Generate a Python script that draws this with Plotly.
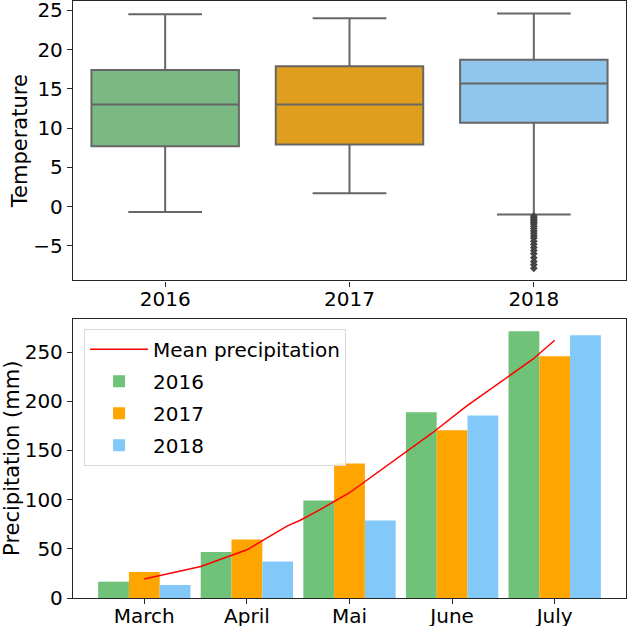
import plotly.graph_objects as go
from plotly.subplots import make_subplots

# temperature box stats
years = ['2016', '2017', '2018']
t_upper = [24.5, 24.0, 24.6]
t_q3 = [17.4, 17.9, 18.7]
t_median = [13.0, 13.0, 15.7]
t_q1 = [7.7, 7.9, 10.7]
t_lower = [-0.7, 1.7, -1.0]
outliers_2018 = [-1.2, -1.4, -1.6, -1.8, -2.0, -2.2, -2.5, -2.8, -3.1, -3.4,
                 -3.7, -4.0, -4.4, -4.8, -5.2, -5.6, -6.0, -6.5, -7.0, -7.4, -7.85]
box_colors = ['#7ab982', '#e09e1f', '#91c6ec']

# precipitation
months = ['March', 'April', 'Mai', 'June', 'July']
precip = {
    '2016': [16.6, 46.8, 99.1, 188.7, 271.2],
    '2017': [26.5, 59.4, 136.8, 170.4, 245.7],
    '2018': [13.2, 37.0, 78.7, 185.6, 267.1],
}
bar_colors = {'2016': '#70c279', '2017': '#ffa500', '2018': '#82c9fa'}

# mean precipitation curve, read at a handful of positions
mean_x = [0, 0.55, 1.0, 1.39, 1.52, 1.7, 2.0, 2.49, 2.81, 3.14, 3.47, 3.79, 4.0]
mean_y = [19.3, 32, 49, 73, 79, 89, 107, 144, 168, 195, 219, 243, 262]

fig = make_subplots(rows=2, cols=1, vertical_spacing=0.064)

for i, yr in enumerate(years):
    fig.add_trace(go.Box(
        x=[yr], q1=[t_q1[i]], median=[t_median[i]], q3=[t_q3[i]],
        lowerfence=[t_lower[i]], upperfence=[t_upper[i]],
        fillcolor=box_colors[i], line=dict(color='#666666', width=2),
        width=0.8, whiskerwidth=0.5, boxpoints=False, showlegend=False,
    ), row=1, col=1)

fig.add_trace(go.Scatter(
    x=['2018'] * len(outliers_2018), y=outliers_2018, mode='markers',
    marker=dict(symbol='diamond', size=6, color='#444444'), showlegend=False,
), row=1, col=1)

fig.add_trace(go.Scatter(
    x=mean_x, y=mean_y, mode='lines', name='Mean precipitation',
    line=dict(color='red', width=1.5), legendgroup='mean',
), row=2, col=1)

for yr in years:
    fig.add_trace(go.Bar(
        x=list(range(len(months))), y=precip[yr], name=yr, legendgroup=yr,
        marker=dict(color=bar_colors[yr], line=dict(width=0)),
    ), row=2, col=1)

axis_style = dict(showline=True, mirror=True, linecolor='#262626', linewidth=1.3,
                  ticks='outside', ticklen=5, tickcolor='#262626', automargin=False,
                  showgrid=False, zeroline=False, tickfont=dict(size=20),
                  ticklabeloverflow='allow')

fig.update_xaxes(**axis_style, ticklabelstandoff=-5)
fig.update_yaxes(**axis_style)

fig.update_xaxes(type='category', range=[-0.5, 2.5], row=1, col=1)
fig.update_yaxes(range=[-9.4, 26.2], tickvals=[-5, 0, 5, 10, 15, 20, 25],
                 ticktext=['\u22125', '0', '5', '10', '15', '20', '25'],
                 title=dict(text='Temperature', font=dict(size=21), standoff=0), row=1, col=1)

fig.update_xaxes(range=[-0.695, 4.695], tickvals=list(range(len(months))),
                 ticktext=months, row=2, col=1)
fig.update_yaxes(range=[0, 284], tickvals=[0, 50, 100, 150, 200, 250],
                 title=dict(text='Precipitation (mm)', font=dict(size=21), standoff=0), row=2, col=1)

fig.update_layout(
    width=628, height=626,
    margin=dict(l=73, r=2, t=1, b=28, autoexpand=False),
    plot_bgcolor='white', paper_bgcolor='white',
    font=dict(family='DejaVu Sans', size=20, color='black'),
    barmode='group', bargap=0.1, bargroupgap=0,
    legend=dict(x=0.02, y=0.451, xanchor='left', yanchor='top',
                bgcolor='rgba(255,255,255,0.8)', bordercolor='#d9d9d9', borderwidth=1,
                font=dict(size=20), tracegroupgap=3, itemwidth=58),
)

# page body has an 8px default margin; drop it so the figure sits at the corner
fig.write_html("out.html", config={'displayModeBar': False},
               post_script="document.body.style.margin='0';")
